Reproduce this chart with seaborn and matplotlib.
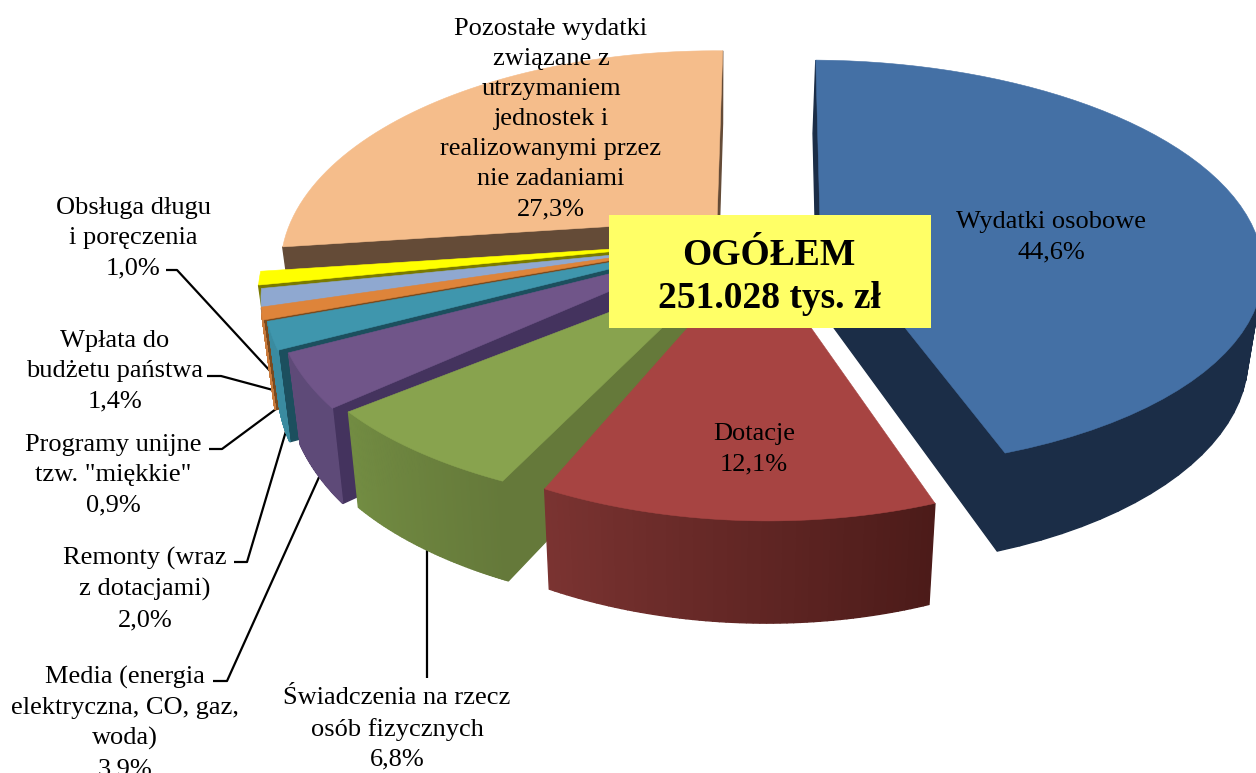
import numpy as np
import matplotlib
matplotlib.use("Agg")
import matplotlib.pyplot as plt
from matplotlib.patches import Polygon, Rectangle
import seaborn as sns

# data, clockwise from the top of the pie
categories = ["Wydatki osobowe", "Dotacje", "Świadczenia na rzecz\nosób fizycznych",
              "Media (energia\nelektryczna, CO, gaz,\nwoda)", "Remonty (wraz\nz dotacjami)",
              "Programy unijne\ntzw. \"miękkie\"", "Wpłata do\nbudżetu państwa",
              "Obsługa długu\ni poręczenia",
              "Pozostałe wydatki\nzwiązane z\nutrzymaniem\njednostek i\nrealizowanymi przez\nnie zadaniami"]
shares = [44.6, 12.1, 6.8, 3.9, 2.0, 0.9, 1.4, 1.0, 27.3]
total_title = "OGÓŁEM\n251.028 tys. zł"

top_colors = ["#4470a5", "#a74442", "#88a34e", "#705589", "#3f96ad",
              "#de843a", "#8fa8d0", "#ffff00", "#f5bd8b"]
cut_colors = ["#1b2d47", "#4c1b19", "#65793a", "#44335e", "#1c4f5e",
              "#7a4a1e", "#4a5878", "#7a7a00", "#644b37"]
arc_start = ["#1b2d47", "#4c1b19", "#65793a", "#5e4a78", "#3a8ba0",
             "#c97a3b", "#7a8cad", "#b0b000", "#b08a60"]
arc_end = ["#1b2d47", "#7a3331", "#728c42", "#5e4a78", "#3a8ba0",
           "#c97a3b", "#7a8cad", "#b0b000", "#b08a60"]
# how far each slice is pulled out, in pie radii
explode = [(0.254, 0.093), (0.098, -0.05), (0.02, -0.135), (-0.015, -0.045), (-0.04, -0.035),
           (-0.052, -0.03), (-0.05, -0.035), (-0.06, -0.02), (0.005, 0.10)]
# width and height of each slice's radius
stretch = [(1.05, 0.987), (0.99, 1.0), (1.0, 0.88), (1.0, 1.0), (1.0, 1.0),
           (1.0, 1.0), (1.0, 1.0), (1.0, 1.0), (1.04, 1.05)]
lean = [0.024, 0, 0, 0, 0, 0, 0, 0, 0]

start_angle = 1
cx, cy = 715, 240
rx, ry = 418, 206
persp = 0.219
shrink = 0.028
depth = 87


def project(u, v, bottom=False):
    w = 1 + persp * np.asarray(v)
    if bottom:
        w2 = w * (1 + shrink)
        return cx + rx * np.asarray(u) / w2, cy + (-ry * np.asarray(v) + depth) / w2
    return cx + rx * np.asarray(u) / w, cy - ry * np.asarray(v) / w


def visible(q):
    x, y = q[:, 0], q[:, 1]
    return np.sum(x * np.roll(y, -1) - np.roll(x, -1) * y) < 0


def draw_face(ax, p, q, color, z):
    (u1, v1), (u2, v2) = p, q
    top = np.column_stack(project(np.array([u1, u2]), np.array([v1, v2])))
    low = np.column_stack(project(np.array([u2, u1]), np.array([v2, v1]), bottom=True))
    quad = np.vstack([top, low])
    if visible(quad):
        ax.add_patch(Polygon(quad, closed=True, facecolor=color, edgecolor=color, lw=1.0, zorder=z))


sns.set_theme(style="white")
plt.rcParams["font.family"] = ["Liberation Serif", "DejaVu Sans"]

fig = plt.figure(figsize=(12.56, 7.73), dpi=100)
ax = fig.add_axes([0, 0, 1, 1])
ax.set_xlim(0, 1256)
ax.set_ylim(773, 0)
ax.axis("off")

edges = start_angle + np.concatenate([[0], np.cumsum(shares)]) * 3.6
# back slices first, then towards the viewer
order = [8, 7, 6, 5, 4, 3, 2, 0, 1]
for rank, i in enumerate(order):
    z = 3 + rank
    t = np.radians(np.linspace(edges[i], edges[i + 1], 60))
    eu, ev = explode[i]
    v = ev + stretch[i][1] * np.cos(t)
    u = eu + stretch[i][0] * np.sin(t) + lean[i] * v
    apex = (eu + lean[i] * ev, ev)
    shades = sns.blend_palette([arc_start[i], arc_end[i]], len(t) - 1)
    draw_face(ax, apex, (u[0], v[0]), cut_colors[i], z)
    draw_face(ax, (u[-1], v[-1]), apex, cut_colors[i], z)
    for k in range(len(t) - 1):
        draw_face(ax, (u[k], v[k]), (u[k + 1], v[k + 1]), shades[k], z)
    pts = np.column_stack(project(np.r_[apex[0], u], np.r_[apex[1], v]))
    ax.add_patch(Polygon(pts, closed=True, facecolor=top_colors[i], edgecolor=top_colors[i],
                         lw=0.4, zorder=z + 0.5))

# leader lines
leaders = [([166, 177, 271], [270, 270, 372]),
           ([207, 221, 273], [376, 376, 390]),
           ([209, 222, 276], [449, 449, 409]),
           ([234, 247, 286], [562, 562, 431]),
           ([213, 227, 320], [681, 681, 475]),
           ([427, 427], [678, 545])]
for xs, ys in leaders:
    ax.plot(xs, ys, color="black", lw=1.6, zorder=2, solid_capstyle="butt")

# labels
label_pos = [(1051, 237), (754, 449), (397, 729), (125, 723), (145, 589),
             (113, 475), (115, 371), (133, 238), (551, 119)]
for (x, y), name, val in zip(label_pos, categories, shares):
    s = name + "\n" + f"{val:.1f}".replace(".", ",") + "%"
    ax.text(x, y, s, ha="center", va="center", fontsize=19, color="black",
            linespacing=1.47, zorder=20)

ax.add_patch(Rectangle((609, 215), 322, 113, facecolor="#ffff66", edgecolor="none", zorder=18))
ax.text(769, 277, total_title, ha="center", va="center", fontsize=27, fontweight="bold",
        color="black", linespacing=1.28, zorder=20)

fig.savefig("out.png", dpi=100)
